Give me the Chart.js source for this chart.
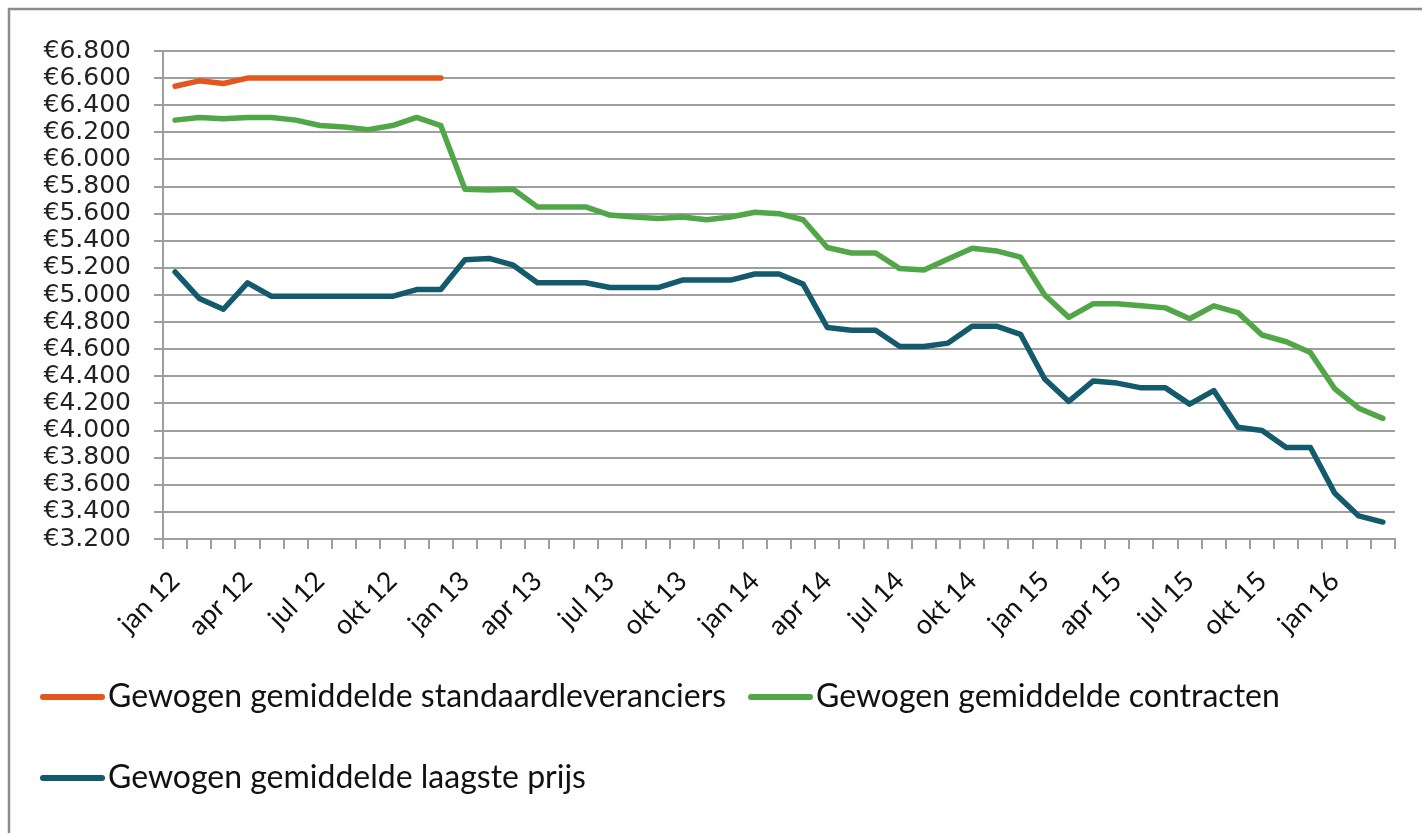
<!DOCTYPE html>
<html>
<head>
<meta charset="utf-8">
<title>Gewogen gemiddelde prijzen</title>
<script src="https://cdn.jsdelivr.net/npm/chart.js@4.4.1/dist/chart.umd.min.js"></script>
<style>
  html, body { margin: 0; padding: 0; background: #fff; }
  #wrap { position: relative; width: 1422px; height: 833px; }
</style>
</head>
<body>
<div id="wrap"><canvas id="prijsChart" width="1422" height="833"></canvas></div>
<script>
// maanden jan 12 t/m mrt 16
const maanden = [
  "jan 12", "feb 12", "mrt 12", "apr 12", "mei 12", "jun 12", "jul 12", "aug 12", "sep 12", "okt 12", "nov 12", "dec 12",
  "jan 13", "feb 13", "mrt 13", "apr 13", "mei 13", "jun 13", "jul 13", "aug 13", "sep 13", "okt 13", "nov 13", "dec 13",
  "jan 14", "feb 14", "mrt 14", "apr 14", "mei 14", "jun 14", "jul 14", "aug 14", "sep 14", "okt 14", "nov 14", "dec 14",
  "jan 15", "feb 15", "mrt 15", "apr 15", "mei 15", "jun 15", "jul 15", "aug 15", "sep 15", "okt 15", "nov 15", "dec 15",
  "jan 16", "feb 16", "mrt 16"
];

// alleen deze maanden krijgen een label op de as
const asLabels = ["jan 12", "apr 12", "jul 12", "okt 12", "jan 13", "apr 13", "jul 13", "okt 13",
  "jan 14", "apr 14", "jul 14", "okt 14", "jan 15", "apr 15", "jul 15", "okt 15", "jan 16"];

const standaardleveranciers = [6540, 6580, 6560, 6600, 6600, 6600, 6600, 6600, 6600, 6600, 6600, 6600];

const contracten = [
  6290, 6310, 6300, 6310, 6310, 6290, 6250, 6240, 6220, 6250, 6310, 6250,
  5780, 5775, 5780, 5650, 5650, 5650, 5590, 5575, 5565, 5575, 5555, 5575,
  5610, 5600, 5555, 5350, 5310, 5310, 5195, 5185, 5265, 5345, 5325, 5280,
  5000, 4835, 4935, 4935, 4920, 4905, 4825, 4920, 4870, 4705, 4655, 4575,
  4310, 4165, 4090
];

const laagstePrijs = [
  5170, 4975, 4895, 5090, 4990, 4990, 4990, 4990, 4990, 4990, 5040, 5040,
  5260, 5270, 5220, 5090, 5090, 5090, 5055, 5055, 5055, 5110, 5110, 5110,
  5155, 5155, 5080, 4760, 4740, 4740, 4620, 4620, 4645, 4770, 4770, 4710,
  4380, 4215, 4365, 4350, 4315, 4315, 4195, 4295, 4025, 4000, 3875, 3875,
  3540, 3370, 3325
];

const reeksNamen = [
  "Gewogen gemiddelde standaardleveranciers",
  "Gewogen gemiddelde contracten",
  "Gewogen gemiddelde laagste prijs"
];
const kleuren = ["#e4561c", "#51a747", "#145a6d"];

const gridKleur = "#9e9e9e";

function lijn(i, data) {
  return {
    label: reeksNamen[i],
    data: data,
    borderColor: kleuren[i],
    backgroundColor: kleuren[i],
    borderWidth: 5.5,
    pointRadius: 0,
    tension: 0,
    borderCapStyle: "round",
    borderJoinStyle: "round"
  };
}

// kader links/boven + eigen legenda onderaan
const kaderEnLegenda = {
  id: "kaderEnLegenda",
  beforeDraw(chart) {
    const ctx = chart.ctx;
    ctx.save();
    ctx.fillStyle = "#fff";
    ctx.fillRect(0, 0, chart.width, chart.height);
    ctx.strokeStyle = "#8c8c8c";
    ctx.lineWidth = 2.5;
    ctx.beginPath();
    ctx.moveTo(9, chart.height);
    ctx.lineTo(9, 9);
    ctx.lineTo(chart.width, 9);
    ctx.stroke();
    ctx.restore();
  },
  afterDraw(chart) {
    const ctx = chart.ctx;
    ctx.save();
    ctx.font = "32px Lato";
    ctx.textBaseline = "middle";
    let x = 40;
    let y = 697;
    chart.data.datasets.forEach(ds => {
      const w = 68 + ctx.measureText(ds.label).width;
      if (x > 40 && x + w > chart.width - 20) {
        x = 40;
        y += 81;
      }
      ctx.strokeStyle = ds.borderColor;
      ctx.lineWidth = 6;
      ctx.lineCap = "round";
      ctx.beginPath();
      ctx.moveTo(x + 3, y);
      ctx.lineTo(x + 62, y);
      ctx.stroke();
      ctx.fillStyle = "#111";
      ctx.fillText(ds.label, x + 68, y);
      x += w + 22;
    });
    ctx.restore();
  }
};

new Chart(document.getElementById("prijsChart"), {
  type: "line",
  data: {
    labels: maanden,
    datasets: [
      lijn(0, standaardleveranciers),
      lijn(1, contracten),
      lijn(2, laagstePrijs)
    ]
  },
  options: {
    responsive: false,
    animation: false,
    layout: { padding: { top: 51, right: 23, left: 0, bottom: 0 } },
    plugins: {
      legend: { display: false },
      tooltip: { enabled: false }
    },
    scales: {
      x: {
        offset: true,
        afterFit(scale) { scale.height = 294; },
        grid: {
          offset: true,
          drawOnChartArea: false,
          drawTicks: true,
          tickLength: 10,
          color: gridKleur,
          lineWidth: 2
        },
        border: { color: gridKleur, width: 2 },
        ticks: {
          autoSkip: false,
          minRotation: 45,
          maxRotation: 45,
          padding: 16,
          color: "#111",
          font: { family: "Lato", size: 27 },
          callback(val, idx) {
            const l = maanden[idx];
            return asLabels.includes(l) ? l : "";
          }
        }
      },
      y: {
        min: 3200,
        max: 6800,
        afterFit(scale) { scale.width = 163; },
        grid: {
          color: gridKleur,
          lineWidth: 2,
          tickLength: 9
        },
        border: { color: gridKleur, width: 2 },
        ticks: {
          stepSize: 200,
          autoSkip: false,
          padding: 23,
          color: "#222",
          font: { family: "DejaVu Sans", size: 25 },
          callback: v => "€" + (v / 1000).toFixed(3)
        }
      }
    }
  },
  plugins: [kaderEnLegenda]
});
</script>
</body>
</html>
